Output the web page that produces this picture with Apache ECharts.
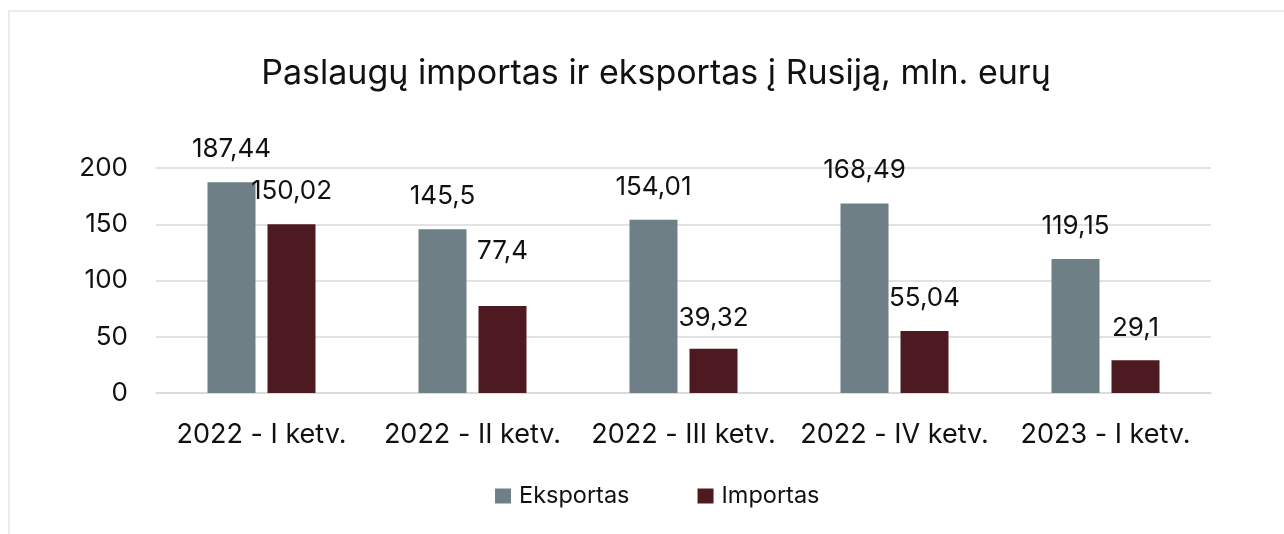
<!DOCTYPE html>
<html>
<head>
<meta charset="utf-8">
<script src="https://cdn.jsdelivr.net/npm/echarts@6/dist/echarts.min.js"></script>
<style>
  html, body { margin: 0; padding: 0; background: #fff; }
  #frame { position: absolute; left: 8px; top: 10px; width: 1300px; height: 560px; border: 2px solid #eee9eb; box-sizing: border-box; }
  #chart { position: absolute; left: 0; top: 0; width: 1284px; height: 534px; }
</style>
</head>
<body>
<div id="frame"></div>
<div id="chart"></div>
<script>
// kategorijos ir reikšmės
const quarters = ['2022 - I ketv.', '2022 - II ketv.', '2022 - III ketv.', '2022 - IV ketv.', '2023 - I ketv.']
const exportsData = [187.44, 145.5, 154.01, 168.49, 119.15]
const importsData = [150.02, 77.4, 39.32, 55.04, 29.1]
const yTicks = [0, 50, 100, 150, 200]

// etikečių atstumas virš stulpelio (rankiniai pataisymai)
const exportLift = [20, 20, 20, 20, 20]
const importLift = [20, 42, 18, 20, 19]

const font = 'Inter, "Noto Sans", sans-serif'
const fmt = v => String(v).replace('.', ',')

function build(values, lifts) {
  return values.map((v, i) => ({
    value: v,
    label: { distance: lifts[i] }
  }))
}

const option = {
  animation: false,
  textStyle: { fontFamily: font },
  title: {
    text: 'Paslaugų importas ir eksportas į Rusiją, mln. eurų',
    left: 651,
    top: 52,
    textAlign: 'center',
    textStyle: { fontFamily: font, fontSize: 34, fontWeight: 'normal', color: '#111' }
  },
  legend: {
    bottom: 21,
    left: 490,
    itemWidth: 16,
    itemHeight: 15,
    itemGap: 68,
    icon: 'rect',
    textStyle: { fontFamily: font, fontSize: 23.5, color: '#111', padding: [0, 0, 0, 3] },
    data: ['Eksportas', 'Importas']
  },
  grid: { left: 156, right: 73, top: 168, bottom: 141, containLabel: false },
  xAxis: {
    type: 'category',
    data: quarters,
    axisLine: { lineStyle: { color: '#d9d9d9', width: 1.5 } },
    axisTick: { show: false },
    axisLabel: { margin: 28, fontSize: 27, color: '#111', fontFamily: font, interval: 0 }
  },
  yAxis: {
    type: 'value',
    min: yTicks[0],
    max: yTicks[yTicks.length - 1],
    interval: 50,
    axisLine: { show: false },
    axisTick: { show: false },
    splitLine: { lineStyle: { color: '#d9d9d9', width: 1.5 } },
    axisLabel: { margin: 28, fontSize: 26, color: '#111', fontFamily: font }
  },
  series: [
    {
      name: 'Eksportas',
      type: 'bar',
      barWidth: 48,
      barGap: '25%',
      itemStyle: { color: '#6e7f85' },
      label: { show: true, position: 'top', fontSize: 26, color: '#111', fontFamily: font, formatter: p => fmt(p.value) },
      data: build(exportsData, exportLift)
    },
    {
      name: 'Importas',
      type: 'bar',
      barWidth: 48,
      barGap: '25%',
      itemStyle: { color: '#4e1a22' },
      label: { show: true, position: 'top', fontSize: 26, color: '#111', fontFamily: font, formatter: p => fmt(p.value) },
      data: build(importsData, importLift)
    }
  ]
}

const myChart = echarts.init(document.getElementById('chart'))
myChart.setOption(option)
</script>
</body>
</html>
